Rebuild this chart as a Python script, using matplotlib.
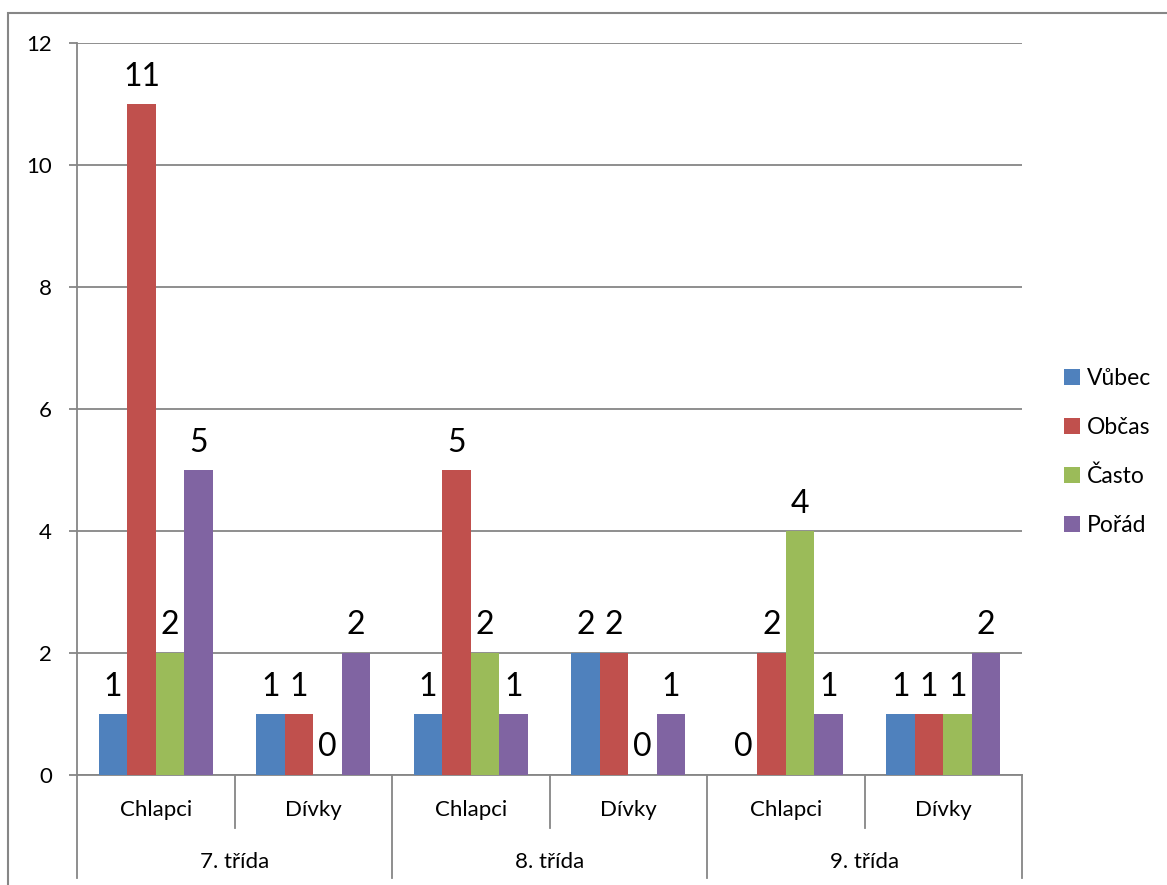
import matplotlib.pyplot as plt
import matplotlib.transforms as mtransforms
import numpy as np
from matplotlib.patches import Rectangle

plt.rcParams['font.family'] = ['Lato', 'DejaVu Sans']

skupiny = ['7. třída', '8. třída', '9. třída']
pohlavi = ['Chlapci', 'Dívky']
serie = ['Vůbec', 'Občas', 'Často', 'Pořád']
vubec = [1, 1, 1, 2, 0, 1]
obcas = [11, 1, 5, 2, 2, 1]
casto = [2, 0, 2, 0, 4, 1]
porad = [5, 2, 1, 1, 1, 2]
barvy = ['#4F81BD', '#C0504D', '#9BBB59', '#8064A2']
seda = '#868686'

hodnoty = [vubec, obcas, casto, porad]
n = len(vubec)
x = np.arange(n) + 0.5

fig = plt.figure(figsize=(11.67, 8.85), dpi=100)
ax = fig.add_axes([77/1167, 1 - 775/885, (1022-77)/1167, (775-43)/885])

sirka = 0.181
for i, (jmeno, data, c) in enumerate(zip(serie, hodnoty, barvy)):
    pos = x + (i - 1.5) * sirka
    ax.bar(pos, data, width=sirka, color=c, label=jmeno, zorder=3)
    for px, v in zip(pos, data):
        ax.annotate(str(v), (px, v), xytext=(0, 9), textcoords='offset points',
                    ha='center', va='bottom', fontsize=23)

ax.set_xlim(0, n)
ax.set_ylim(0, 12)
ax.set_yticks(range(0, 13, 2))
ax.yaxis.grid(True, color=seda, linewidth=1.3, zorder=0)
ax.tick_params(axis='y', length=6, width=1.3, color=seda, labelsize=16, pad=12)
ax.set_xticks([])
for s in ['top', 'right']:
    ax.spines[s].set_visible(False)
ax.spines['left'].set_color(seda)
ax.spines['left'].set_linewidth(1.3)
ax.spines['bottom'].set_color(seda)
ax.spines['bottom'].set_linewidth(1.3)

# popisky osy x ve dvou úrovních
tr = mtransforms.blended_transform_factory(ax.transData, ax.transAxes)
for k in range(n):
    ax.text(x[k], -0.048, pohlavi[k % 2], transform=tr, ha='center', va='center', fontsize=16)
for g, nazev in enumerate(skupiny):
    ax.text(2 * g + 1, -0.119, nazev, transform=tr, ha='center', va='center', fontsize=16)
for k in range(n + 1):
    spodek = -0.1407 if k % 2 == 0 else -0.0724
    ax.plot([k, k], [0, spodek], transform=tr, color=seda, linewidth=1.3, clip_on=False)

ax.legend(loc='center left', bbox_to_anchor=(1.035, 0.441), frameon=False, fontsize=16.5,
          handlelength=0.7, handleheight=0.7, handletextpad=0.3, labelspacing=1.22,
          borderaxespad=0)

fig.patches.append(Rectangle((8/1167, -0.1), 1.2, 1.1 - 13/885, transform=fig.transFigure,
                             fill=False, edgecolor=seda, linewidth=1.5))

fig.savefig('out.png', dpi=100)
